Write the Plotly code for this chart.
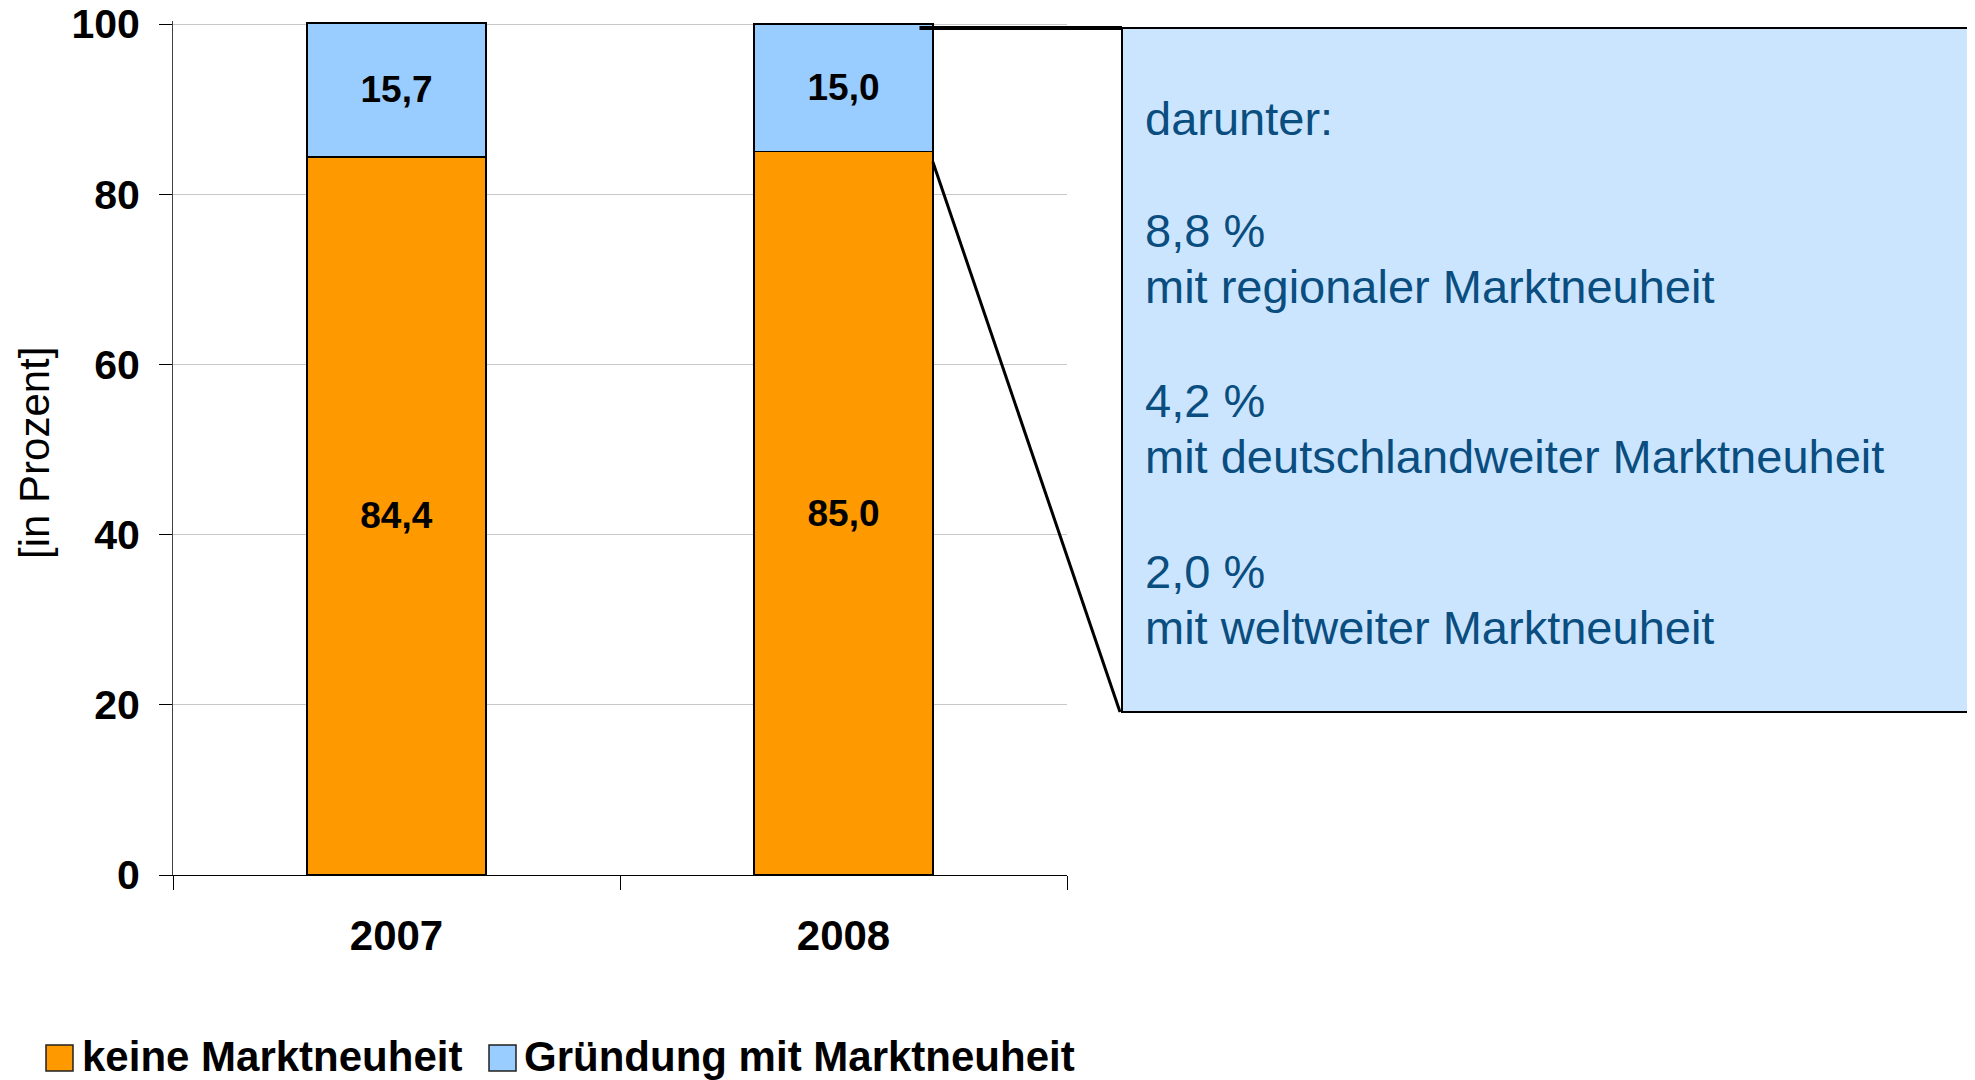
import plotly.graph_objects as go

# data
years = ["2007", "2008"]
keine_marktneuheit = [84.4, 85.0]
gruendung_mit_marktneuheit = [15.7, 15.0]

callout_title = "darunter:"
callout_values = ["8,8 %", "4,2 %", "2,0 %"]
callout_labels = [
    "mit regionaler Marktneuheit",
    "mit deutschlandweiter Marktneuheit",
    "mit weltweiter Marktneuheit",
]

FONT = "Liberation Sans, Arial, sans-serif"
ORANGE = "#FF9900"
LIGHTBLUE = "#99CCFF"
BOX_FILL = "#CCE5FF"
BOX_TEXT = "#0A4E7F"

# the page adds an 8px body margin, so the figure is drawn 8px smaller
OFF = 8
W, H = 1975 - OFF, 1080 - OFF
# plot area in page pixels
L, R, T, B = 173, 1067, 21, 875
BAR_WIDTH = 0.4


def px_x(p):
    return (p - L) / (R - L)


def px_y(p):
    return (B - p) / (B - T)


fig = go.Figure()

fig.add_trace(go.Bar(
    x=years, y=keine_marktneuheit, name="keine Marktneuheit",
    marker=dict(color=ORANGE, line=dict(color="black", width=1.5)),
    width=BAR_WIDTH,
    texttemplate="%{y:.1f}", textposition="inside", insidetextanchor="middle",
    textfont=dict(family=FONT, size=37, color="black", weight="bold"),
    constraintext="none",
))
fig.add_trace(go.Bar(
    x=years, y=gruendung_mit_marktneuheit, name="Gründung mit Marktneuheit",
    marker=dict(color=LIGHTBLUE, line=dict(color="black", width=1.5)),
    width=BAR_WIDTH,
    texttemplate="%{y:.1f}", textposition="inside", insidetextanchor="middle",
    textfont=dict(family=FONT, size=37, color="black", weight="bold"),
    constraintext="none",
))

# y range chosen so that 100 sits on the top grid line (slight headroom for 100,1)
units_per_px = 100 / (B - 24)
y_top = (B - T) * units_per_px

fig.update_layout(
    width=W, height=H,
    barmode="stack",
    separators=",.",
    showlegend=False,
    plot_bgcolor="white", paper_bgcolor="white",
    margin=dict(l=L - OFF, r=1975 - R, t=T - OFF, b=1080 - B),
    font=dict(family=FONT, color="black"),
    xaxis=dict(
        automargin=False,
        showline=True, linecolor="black", linewidth=1,
        ticks="outside", tickson="boundaries", ticklen=14, tickcolor="black",
        tickfont=dict(family=FONT, size=42, weight="bold"),
        ticklabelstandoff=24,
        showgrid=False,
    ),
    yaxis=dict(
        automargin=False,
        range=[0, y_top],
        tickvals=[0, 20, 40, 60, 80, 100],
        showline=True, linecolor="#404040", linewidth=1,
        ticks="outside", ticklen=13, tickcolor="black",
        tickfont=dict(family=FONT, size=41, weight="bold"),
        ticklabelstandoff=11,
        ticklabeloverflow="allow",
        showgrid=True, gridcolor="#C8C8C8", gridwidth=1,
        zeroline=False,
    ),
)

# y axis title
fig.add_annotation(
    text="[in Prozent]", xref="paper", yref="paper",
    x=px_x(34), y=px_y(453), textangle=-90, showarrow=False,
    xanchor="center", yanchor="middle",
    font=dict(family=FONT, size=42, color="black"),
)

# callout box with connector lines from the 2008 bar
box_x0, box_x1, box_y0, box_y1 = 1122, 1971, 28, 712
bar_right = (1 + 0.5 + BAR_WIDTH / 2) / 2  # paper x of right edge of 2008 bar
fig.add_shape(type="rect", xref="paper", yref="paper",
              x0=px_x(box_x0), x1=px_x(box_x1), y0=px_y(box_y1), y1=px_y(box_y0),
              fillcolor=BOX_FILL, line=dict(color="black", width=2), layer="above")
fig.add_shape(type="line", xref="paper", yref="paper",
              x0=bar_right - 0.015, y0=px_y(28), x1=px_x(box_x0), y1=px_y(28),
              line=dict(color="black", width=4))
fig.add_shape(type="line", xref="paper", yref="paper",
              x0=bar_right, y0=keine_marktneuheit[1] / y_top - 0.012,
              x1=px_x(box_x0 - 2), y1=px_y(box_y1),
              line=dict(color="black", width=3))

lines = [(callout_title, 118)]
ys = [230, 400, 571]
for val, lab, yy in zip(callout_values, callout_labels, ys):
    lines.append((val, yy))
    lines.append((lab, yy + 56))
for txt, yy in lines:
    fig.add_annotation(
        text=txt, xref="paper", yref="paper", x=px_x(1143), y=px_y(yy),
        xanchor="left", yanchor="middle", showarrow=False,
        font=dict(family=FONT, size=47, color=BOX_TEXT),
    )

# legend drawn at the bottom
legend_items = [("keine Marktneuheit", ORANGE, 46, 80),
                ("Gründung mit Marktneuheit", LIGHTBLUE, 489, 522)]
for name, col, sq_x, tx in legend_items:
    fig.add_shape(type="rect", xref="paper", yref="paper",
                  x0=px_x(sq_x), x1=px_x(sq_x + 27), y0=px_y(1071), y1=px_y(1045),
                  fillcolor=col, line=dict(color="#202020", width=1.5))
    fig.add_annotation(
        text=name, xref="paper", yref="paper", x=px_x(tx), y=px_y(1056),
        xanchor="left", yanchor="middle", showarrow=False,
        font=dict(family=FONT, size=42, color="black", weight="bold"),
    )

fig.write_html("out.html")
